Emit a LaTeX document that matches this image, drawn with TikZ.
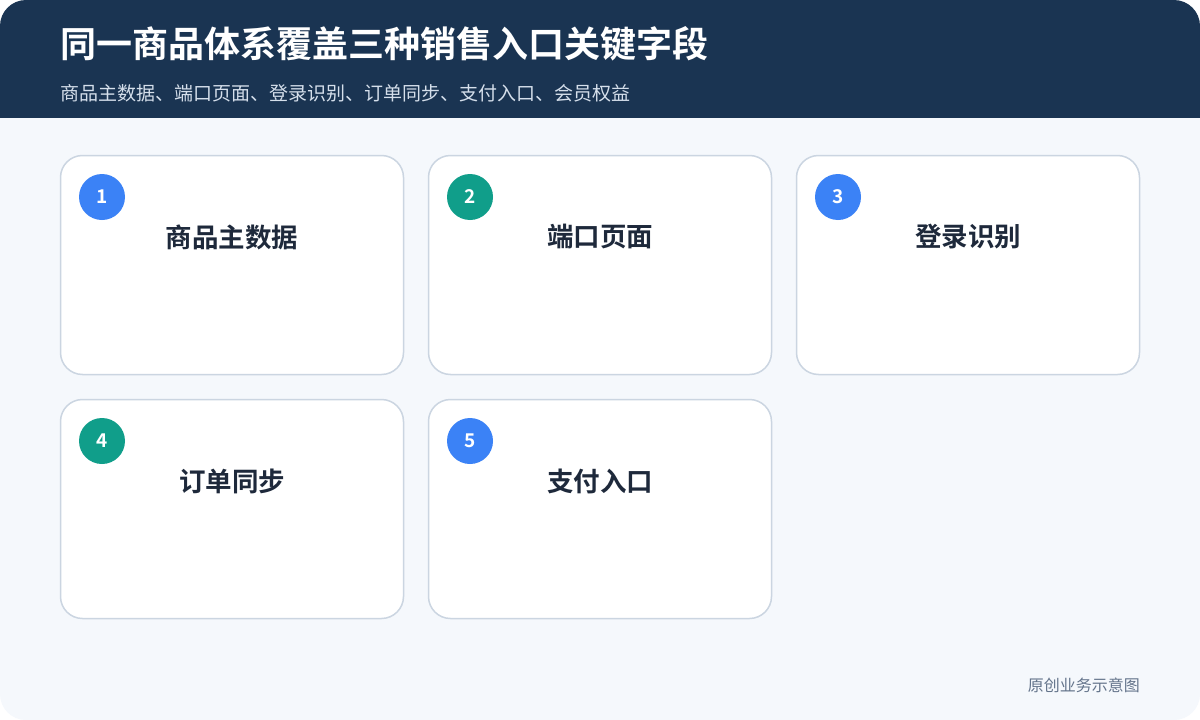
\documentclass[tikz,border=0pt]{standalone}
\usepackage{fontspec}
\newfontfamily\cjk{Noto Sans CJK SC}
\newfontfamily\cjkb{Noto Sans CJK SC Bold}
\definecolor{hdr}{HTML}{1A3452}
\definecolor{bg}{HTML}{F5F8FC}
\definecolor{cardline}{HTML}{CBD5E1}
\definecolor{cblue}{HTML}{3B82F6}
\definecolor{cteal}{HTML}{109E8A}
\definecolor{ctext}{HTML}{1E293B}
\definecolor{subtxt}{HTML}{D5DFEB}
\definecolor{foot}{HTML}{64748B}
\begin{document}
\begin{tikzpicture}[x=1pt,y=-1pt,
  card/.style={draw=cardline,line width=1.5pt,fill=white,rounded corners=22pt,minimum width=343pt,minimum height=219pt,inner sep=0pt,outer sep=0pt,anchor=north west},
  badge/.style={circle,minimum size=46pt,inner sep=0pt,text=white,font=\cjkb\fontsize{19}{21}\selectfont},
  ctitle/.style={text=ctext,font=\cjkb\fontsize{26.5}{30}\selectfont}]
\useasboundingbox (0,0) rectangle (1200,720);
\fill[white] (0,0) rectangle (1200,720);
\fill[bg,rounded corners=26pt] (0,0) rectangle (1200,720);
\begin{scope}
\clip[rounded corners=26pt] (0,0) rectangle (1200,720);
\fill[hdr] (0,0) rectangle (1200,118);
\end{scope}
\node[anchor=west,text=white,font=\cjkb\fontsize{36}{40}\selectfont,inner sep=0pt] (title) at (60,44) {同一商品体系覆盖三种销售入口关键字段};
\node[anchor=west,text=subtxt,font=\cjk\fontsize{19}{22}\selectfont,inner sep=0pt] (sub) at (60,93) {商品主数据、端口页面、登录识别、订单同步、支付入口、会员权益};
\foreach \n/\x/\y/\c/\t in {1/60.5/155.5/cblue/商品主数据,2/428.5/155.5/cteal/端口页面,3/796.5/155.5/cblue/登录识别,4/60.5/399.5/cteal/订单同步,5/428.5/399.5/cblue/支付入口}{
  \node[card] (card\n) at (\x,\y) {};
  \node[badge,fill=\c] (b\n) at (\x+41.5,\y+41.5) {\n};
  \node[ctitle] (t\n) at (\x+171.5,\y+81.5) {\t};
}
\node[anchor=east,text=foot,font=\cjk\fontsize{16}{18}\selectfont,inner sep=0pt] (footer) at (1140,685) {原创业务示意图};
\end{tikzpicture}
\end{document}
